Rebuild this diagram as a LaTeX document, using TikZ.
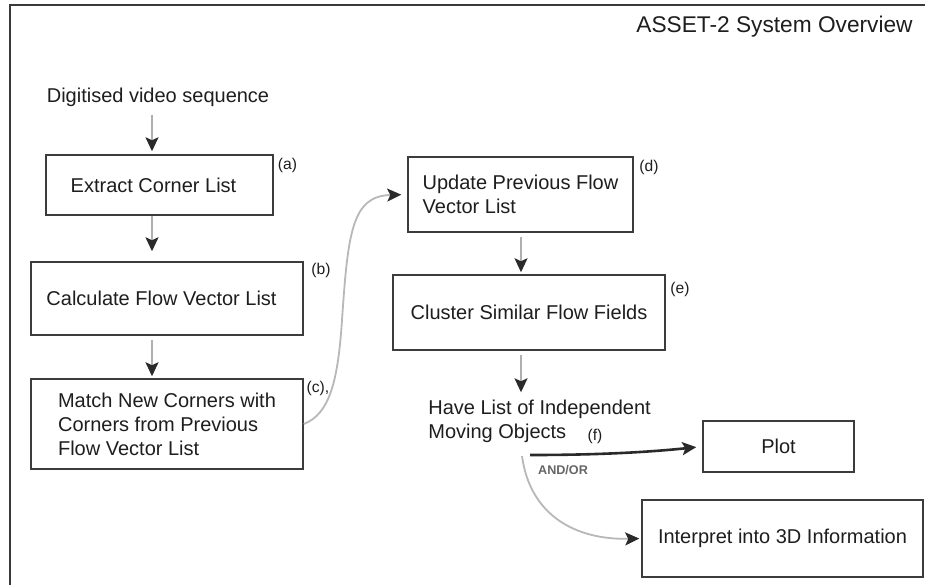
\documentclass[tikz,border=0pt]{standalone}
\usepackage{fontspec}
\setmainfont{Liberation Sans}
\usetikzlibrary{arrows.meta}
\definecolor{framec}{HTML}{3A3A3A}
\definecolor{boxc}{HTML}{3C3C3C}
\definecolor{linec}{HTML}{B0B0B0}
\definecolor{curvec}{HTML}{B8B8B8}
\definecolor{headc}{HTML}{2A2A2A}
\definecolor{txtc}{HTML}{1E1E1E}
\begin{document}
\begin{tikzpicture}[x=0.5pt,y=-0.5pt,
  every node/.style={text=txtc, font=\fontsize{10}{12}\selectfont},
  box/.style={draw=boxc, line width=0.75pt, inner sep=0pt, align=center},
  leftbox/.style={box, align=left},
  tag/.style={font=\fontsize{7.8}{9}\selectfont, inner sep=0pt},
  head/.style={-{Stealth[length=7pt,width=6.5pt,inset=1.5pt,color=headc]}},
  arr/.style={head, draw=linec, line width=0.9pt},
  curv/.style={head, draw=curvec, line width=0.9pt},
  darr/.style={head, draw=headc, line width=1.3pt}
]
\useasboundingbox (0,0) rectangle (925,585);
\fill[white] (0,0) rectangle (925,585);
% frame
\draw[framec, line width=1pt] (925,5) -- (10,5) -- (10,585);

\node[font=\fontsize{11.35}{13}\selectfont] (title) at (774.5,27) {ASSET-2 System Overview};

\node[inner sep=0pt] (digit) at (158,97) {Digitised video sequence};

\node[box, minimum width=113.5pt, minimum height=30pt] (a) at (159.5,185) {\kern-6pt Extract Corner List};
\node[box, minimum width=136pt, minimum height=36.5pt] (b) at (167,298.5) {\kern-5.5pt Calculate Flow Vector List};
\node[leftbox, minimum width=136pt, minimum height=45pt] (c) at (167,424) {Match New Corners with\\Corners from Previous\\Flow Vector List};
\node[leftbox, minimum width=112.5pt, minimum height=37.5pt] (d) at (520.5,194.5) {Update Previous Flow\\Vector List};
\node[box, minimum width=136pt, minimum height=37.5pt] (e) at (529,312.5) {Cluster Similar Flow Fields};
\node[align=left, inner sep=0pt, anchor=west] (f) at (428,421) {Have List of Independent\\Moving Objects};
\node[box, minimum width=75.5pt, minimum height=25.5pt] (plot) at (778.5,446.5) {Plot};
\node[box, minimum width=140.5pt, minimum height=38.5pt] (interp) at (782.5,538.5) {Interpret into 3D Information};

\node[tag] (ta) at (287.5,165) {(a)};
\node[tag] (tb) at (321,270) {(b)};
\node[tag] (tc) at (318,388) {(c),};
\node[tag] (td) at (649,167) {(d)};
\node[tag] (te) at (680,289) {(e)};
\node[tag] (tf) at (595,436) {(f)};
\node[inner sep=0pt, font=\fontsize{6.3}{7}\selectfont\bfseries, text=black!60] (andor) at (563,470) {AND/OR};

\coordinate (colL) at (152,0);
\coordinate (colR) at (521,0);
\coordinate (f0) at (530,455);
\coordinate (g0) at (522,456);

% vertical arrows
\draw[arr, shorten <=4pt, shorten >=1.5pt] (digit.south -| colL) -- (a.north -| colL);
\draw[arr, shorten >=5pt] (a.south -| colL) -- (b.north -| colL);
\draw[arr, shorten <=2pt, shorten >=1pt] (b.south -| colL) -- (c.north -| colL);
\draw[arr, shorten <=2pt, shorten >=1pt] (d.south -| colR) -- (e.north -| colR);
\draw[arr, shorten <=2pt, shorten >=3.5pt] (e.south -| colR) -- (f.north -| colR);

% curve from c to d
\draw[curv, shorten >=3pt] (c.east) .. controls (330,414) and (338,380) .. (342,320)
   .. controls (348,232) and (352,196) .. (d.west);

% outputs
\draw[darr, shorten >=3pt] (f0) .. controls (600,455) and (650,452) .. (plot.west);
\draw[curv, shorten >=1pt] (g0) .. controls (530,515) and (575,540) .. (interp.west);
\end{tikzpicture}
\end{document}
